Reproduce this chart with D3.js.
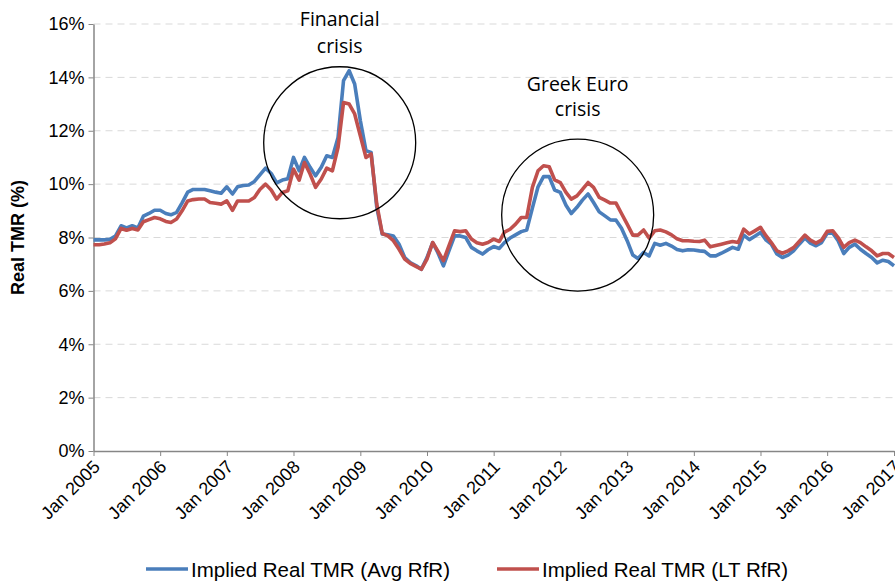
<!DOCTYPE html>
<html><head><meta charset="utf-8">
<script src="https://cdn.jsdelivr.net/npm/d3@7"></script>
<style>body{margin:0;background:#fff}svg{display:block}</style>
</head><body>
<svg id="c" width="895" height="581"></svg>
<script>
const startYear = 2005, startMonth = 0;
const avgRfR = [7.91,7.91,7.91,7.93,8.05,8.44,8.36,8.44,8.36,8.8,8.9,9.02,
9.02,8.9,8.85,8.94,9.3,9.7,9.8,9.8,9.8,9.75,9.7,9.66,
9.9,9.63,9.9,9.95,9.97,10.1,10.35,10.6,10.4,10.05,10.15,10.2,
11.0,10.5,11.0,10.63,10.31,10.63,11.06,11.0,11.75,13.88,14.25,13.75,
12.38,11.25,11.19,9.13,8.13,8.1,8.06,7.75,7.25,7.06,6.95,6.81,
7.25,7.81,7.44,6.94,7.5,8.06,8.06,8.0,7.63,7.5,7.38,7.54,
7.66,7.59,7.81,7.98,8.1,8.22,8.28,9.1,9.9,10.28,10.28,9.78,
9.69,9.21,8.9,9.13,9.4,9.63,9.31,8.96,8.81,8.66,8.65,8.35,
7.88,7.34,7.21,7.44,7.31,7.78,7.71,7.78,7.68,7.55,7.5,7.54,
7.53,7.5,7.48,7.31,7.31,7.41,7.52,7.63,7.56,8.09,7.92,8.05,
8.19,7.9,7.75,7.38,7.25,7.34,7.5,7.75,7.98,7.79,7.69,7.81,
8.16,8.16,7.88,7.4,7.63,7.75,7.56,7.4,7.25,7.05,7.15,7.1,
6.94];
const ltRfR = [7.73,7.73,7.76,7.8,7.95,8.34,8.27,8.34,8.28,8.59,8.67,8.75,
8.7,8.6,8.56,8.69,9.0,9.37,9.42,9.44,9.44,9.31,9.28,9.25,
9.37,9.02,9.37,9.37,9.37,9.5,9.8,10.0,9.78,9.44,9.69,9.75,
10.56,10.15,10.81,10.38,9.88,10.19,10.6,10.5,11.38,13.06,13.0,12.63,
11.81,11.0,11.13,9.25,8.15,8.06,7.88,7.56,7.19,7.03,6.92,6.81,
7.19,7.81,7.5,7.13,7.69,8.25,8.22,8.25,7.94,7.8,7.75,7.81,
7.94,7.85,8.2,8.31,8.5,8.75,8.75,9.88,10.5,10.69,10.65,10.16,
10.06,9.69,9.44,9.56,9.8,10.06,9.88,9.5,9.4,9.29,9.29,8.9,
8.5,8.09,8.09,8.28,7.98,8.25,8.28,8.21,8.1,7.95,7.88,7.88,
7.86,7.85,7.9,7.65,7.7,7.75,7.8,7.85,7.81,8.31,8.13,8.25,
8.38,8.06,7.81,7.5,7.41,7.5,7.62,7.85,8.09,7.9,7.79,7.9,
8.23,8.25,8.0,7.63,7.81,7.9,7.81,7.65,7.5,7.31,7.4,7.4,
7.25];
const seriesNames = ["Implied Real TMR (Avg RfR)", "Implied Real TMR (LT RfR)"];
const yTicks = [0,2,4,6,8,10,12,14,16];
const xTickYears = [2005,2006,2007,2008,2009,2010,2011,2012,2013,2014,2015,2016,2017];
const annotations = [
  {lines:["Financial","crisis"], month:44.3, value:11.55},
  {lines:["Greek Euro","crisis"], month:87.1, value:8.84}
];

const svg = d3.select("#c");
const x0 = 93.5, x1 = 894, yTop = 24, yBot = 451;
const dates = avgRfR.map((_, i) => new Date(startYear, startMonth + i, 1));
const x = d3.scaleTime().domain([new Date(2005,0,1), new Date(2017,0,1)]).range([x0, x1]);
const y = d3.scaleLinear().domain([0,16]).range([yBot, yTop]);

// gridlines
svg.append("g").selectAll("line").data(yTicks.filter(d=>d>0)).join("line")
  .attr("x1", x0).attr("x2", x1).attr("y1", d=>y(d)).attr("y2", d=>y(d))
  .attr("stroke", "#d9d9d9").attr("stroke-width", 1).attr("stroke-dasharray", "7,5");

// y axis
const yAxis = svg.append("g").attr("transform", `translate(${x0},0)`)
  .call(d3.axisLeft(y).tickValues(yTicks).tickFormat(d => d + "%").tickSize(5).tickSizeOuter(0));
yAxis.select(".domain").attr("stroke", "#868686").attr("stroke-width", 1.5);
yAxis.selectAll(".tick line").attr("stroke", "#868686");
yAxis.selectAll(".tick text").attr("font-family", "Liberation Sans, Arial, sans-serif")
  .attr("font-size", 18).attr("fill", "#000").attr("x", -9);

// x axis
const xAxis = svg.append("g").attr("transform", `translate(0,${yBot})`)
  .call(d3.axisBottom(x).tickValues(xTickYears.map(yr => new Date(yr,0,1)))
    .tickFormat(d3.timeFormat("Jan %Y")).tickSize(5).tickSizeOuter(0));
xAxis.select(".domain").attr("stroke", "#868686").attr("stroke-width", 1.5);
xAxis.selectAll(".tick line").attr("stroke", "#868686");
xAxis.selectAll(".tick text").attr("font-family", "Liberation Sans, Arial, sans-serif")
  .attr("font-size", 18).attr("fill", "#000")
  .attr("text-anchor", "end").attr("dy", null).attr("y", 0).attr("x", 0)
  .attr("transform", "translate(7,17) rotate(-45)");

// y label
svg.append("text").attr("transform", `translate(24,${(yTop+yBot)/2}) rotate(-90)`)
  .attr("text-anchor", "middle").attr("font-family", "Liberation Sans, Arial, sans-serif")
  .attr("font-weight", "bold").attr("font-size", 18).text("Real TMR (%)");

// lines
const line = d3.line().x((d,i) => x(dates[i])).y(d => y(d));
const colors = ["#4a7ebb", "#c0504d"];
[avgRfR, ltRfR].forEach((s, k) => {
  svg.append("path").datum(s).attr("d", line).attr("fill", "none")
    .attr("stroke", colors[k]).attr("stroke-width", 3.6).attr("stroke-linejoin", "round");
});

// annotations
const labelOffsets = [[-41, -14], [-48, -23]];
annotations.forEach((a, k) => {
  const cx = x(new Date(2005, 0, 1 + Math.round(a.month * 30.44)));
  const cy = y(a.value);
  svg.append("circle").attr("cx", cx).attr("cy", cy).attr("r", 76)
    .attr("fill", "none").attr("stroke", "#000").attr("stroke-width", 1.3);
  const t = svg.append("text").attr("text-anchor", "middle")
    .attr("font-family", "Open Sans, sans-serif").attr("font-size", 19.5).attr("fill", "#000");
  a.lines.forEach((ln, i) => t.append("tspan").attr("x", cx).attr("y", cy - 76 + labelOffsets[k][i]).text(ln));
});

// legend
const leg = [{x:146}, {x:497}];
leg.forEach((l, k) => {
  svg.append("line").attr("x1", l.x).attr("x2", l.x + 42).attr("y1", 569).attr("y2", 569)
    .attr("stroke", colors[k]).attr("stroke-width", 3.6);
  svg.append("text").attr("x", l.x + 45).attr("y", 576.5)
    .attr("font-family", "Liberation Sans, Arial, sans-serif").attr("font-size", 20.5)
    .text(seriesNames[k]);
});
</script>
</body></html>
